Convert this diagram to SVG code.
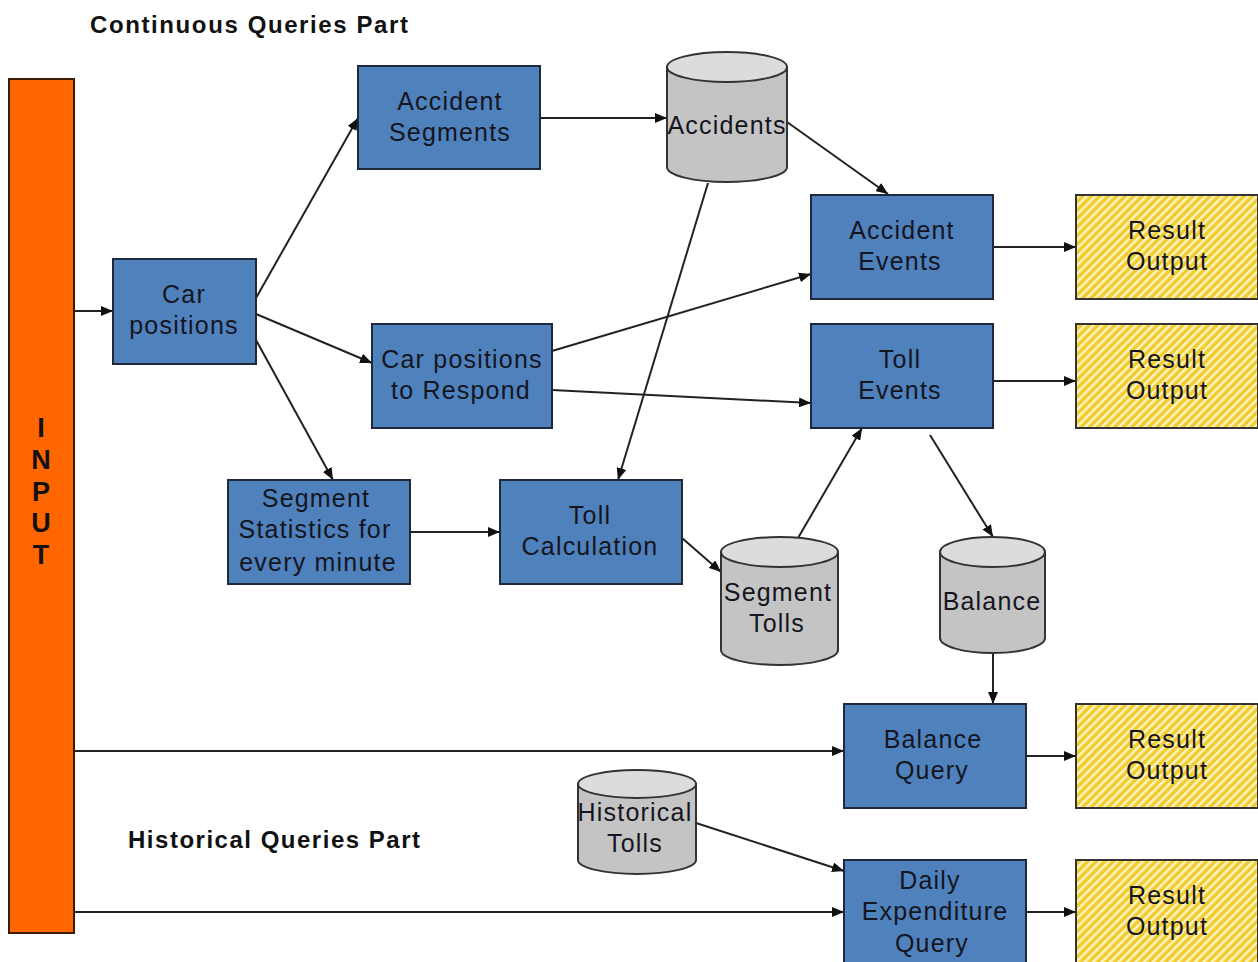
<svg xmlns="http://www.w3.org/2000/svg" width="1258" height="962" viewBox="0 0 1258 962">
<defs>
<style>
.box{fill:#4F81BD;stroke:#1E2A3C;stroke-width:2}
.res{fill:url(#hatch);stroke:#333;stroke-width:2}
.cyl{fill:#C4C4C4;stroke:#333;stroke-width:2}
.cyltop{fill:#DCDCDC;stroke:#333;stroke-width:2}
.t{font-family:"Liberation Sans",Arial,sans-serif;font-size:25px;letter-spacing:1.2px;fill:#151520;text-anchor:middle}
.h{font-family:"Liberation Sans",Arial,sans-serif;font-size:24px;font-weight:bold;fill:#111}
.in{font-family:"Liberation Sans",Arial,sans-serif;font-size:27px;font-weight:bold;fill:#111;text-anchor:middle}
.c{stroke:#222;stroke-width:2;fill:none;marker-end:url(#arr)}
</style>
<pattern id="hatch" width="6" height="6" patternUnits="userSpaceOnUse" patternTransform="rotate(45)">
<rect width="6" height="6" fill="#F2CC2E"/>
<rect width="2.5" height="6" fill="#FFF5C0"/>
</pattern>
<marker id="arr" viewBox="0 0 12 10" refX="12" refY="5" markerWidth="12" markerHeight="10" orient="auto" markerUnits="userSpaceOnUse">
<path d="M0,0 L12,5 L0,10 z" fill="#111"/>
</marker>
</defs>
<rect width="1258" height="962" fill="#fff"/>
<text class="h" x="90" y="33" textLength="318" lengthAdjust="spacing">Continuous Queries Part</text>
<text class="h" x="128" y="848" textLength="292" lengthAdjust="spacing">Historical Queries Part</text>

<g id="connectors">
<line class="c" x1="74" y1="311" x2="113" y2="311"/>
<line class="c" x1="256" y1="298" x2="358" y2="118"/>
<line class="c" x1="256" y1="314" x2="372" y2="363"/>
<line class="c" x1="256" y1="340" x2="333" y2="480"/>
<line class="c" x1="540" y1="118" x2="667" y2="118"/>
<line class="c" x1="787" y1="122" x2="888" y2="194"/>
<line class="c" x1="708" y1="183" x2="618" y2="480"/>
<line class="c" x1="552" y1="351" x2="811" y2="274"/>
<line class="c" x1="552" y1="390" x2="811" y2="403"/>
<line class="c" x1="410" y1="532" x2="500" y2="532"/>
<line class="c" x1="682" y1="538" x2="721" y2="572"/>
<line class="c" x1="798" y1="538" x2="862" y2="428"/>
<line class="c" x1="930" y1="435" x2="993" y2="537"/>
<line class="c" x1="993" y1="653" x2="993" y2="704"/>
<line class="c" x1="993" y1="247" x2="1076" y2="247"/>
<line class="c" x1="988" y1="381" x2="1076" y2="381"/>
<line class="c" x1="74" y1="751" x2="844" y2="751"/>
<line class="c" x1="1026" y1="756" x2="1076" y2="756"/>
<line class="c" x1="696" y1="823" x2="844" y2="871"/>
<line class="c" x1="74" y1="912" x2="844" y2="912"/>
<line class="c" x1="1026" y1="912" x2="1076" y2="912"/>
</g>

<g id="input">
<rect x="9" y="79" width="65" height="854" fill="#FF6600" stroke="#3A1A00" stroke-width="2"/>
<text class="in" x="41" y="437">I</text>
<text class="in" x="41" y="469">N</text>
<text class="in" x="41" y="501">P</text>
<text class="in" x="41" y="532">U</text>
<text class="in" x="41" y="564">T</text>
</g>

<g id="car-positions"><rect class="box" x="113" y="259" width="143" height="105"/><text class="t" x="184" y="303">Car</text><text class="t" x="184" y="334">positions</text></g>
<g id="accident-segments"><rect class="box" x="358" y="66" width="182" height="103"/><text class="t" x="450" y="110">Accident</text><text class="t" x="450" y="141">Segments</text></g>
<g id="car-positions-respond"><rect class="box" x="372" y="324" width="180" height="104"/><text class="t" x="462" y="368">Car positions</text><text class="t" x="461" y="399">to Respond</text></g>
<g id="segment-statistics"><rect class="box" x="228" y="480" width="182" height="104"/><text class="t" x="316" y="507">Segment</text><text class="t" x="315" y="538">Statistics for</text><text class="t" x="318" y="571">every minute</text></g>
<g id="toll-calculation"><rect class="box" x="500" y="480" width="182" height="104"/><text class="t" x="590" y="524">Toll</text><text class="t" x="590" y="555">Calculation</text></g>
<g id="accident-events"><rect class="box" x="811" y="195" width="182" height="104"/><text class="t" x="902" y="239">Accident</text><text class="t" x="900" y="270">Events</text></g>
<g id="toll-events"><rect class="box" x="811" y="324" width="182" height="104"/><text class="t" x="900" y="368">Toll</text><text class="t" x="900" y="399">Events</text></g>
<g id="balance-query"><rect class="box" x="844" y="704" width="182" height="104"/><text class="t" x="933" y="748">Balance</text><text class="t" x="932" y="779">Query</text></g>
<g id="daily-expenditure-query"><rect class="box" x="844" y="860" width="182" height="110"/><text class="t" x="930" y="889">Daily</text><text class="t" x="935" y="920">Expenditure</text><text class="t" x="932" y="952">Query</text></g>

<g id="result-1"><rect class="res" x="1076" y="195" width="182" height="104"/><text class="t" x="1167" y="239">Result</text><text class="t" x="1167" y="270">Output</text></g>
<g id="result-2"><rect class="res" x="1076" y="324" width="182" height="104"/><text class="t" x="1167" y="368">Result</text><text class="t" x="1167" y="399">Output</text></g>
<g id="result-3"><rect class="res" x="1076" y="704" width="182" height="104"/><text class="t" x="1167" y="748">Result</text><text class="t" x="1167" y="779">Output</text></g>
<g id="result-4"><rect class="res" x="1076" y="860" width="182" height="110"/><text class="t" x="1167" y="904">Result</text><text class="t" x="1167" y="935">Output</text></g>

<g id="accidents">
<path class="cyl" d="M667,67 L667,167 A60,15 0 0 0 787,167 L787,67 Z"/>
<ellipse class="cyltop" cx="727" cy="67" rx="60" ry="15"/>
<text class="t" x="727" y="134" letter-spacing="0.3">Accidents</text>
</g>
<g id="segment-tolls">
<path class="cyl" d="M721,552 L721,650 A58.5,15 0 0 0 838,650 L838,552 Z"/>
<ellipse class="cyltop" cx="779.5" cy="552" rx="58.5" ry="15"/>
<text class="t" x="778" y="601" letter-spacing="0.3">Segment</text>
<text class="t" x="777" y="632">Tolls</text>
</g>
<g id="balance">
<path class="cyl" d="M940,552 L940,638 A52.5,15 0 0 0 1045,638 L1045,552 Z"/>
<ellipse class="cyltop" cx="992.5" cy="552" rx="52.5" ry="15"/>
<text class="t" x="992" y="610" letter-spacing="0.3">Balance</text>
</g>
<g id="historical-tolls">
<path class="cyl" d="M578,784 L578,860 A59,14 0 0 0 696,860 L696,784 Z"/>
<ellipse class="cyltop" cx="637" cy="784" rx="59" ry="14"/>
<text class="t" x="635" y="821" letter-spacing="0">Historical</text>
<text class="t" x="635" y="852">Tolls</text>
</g>
</svg>
